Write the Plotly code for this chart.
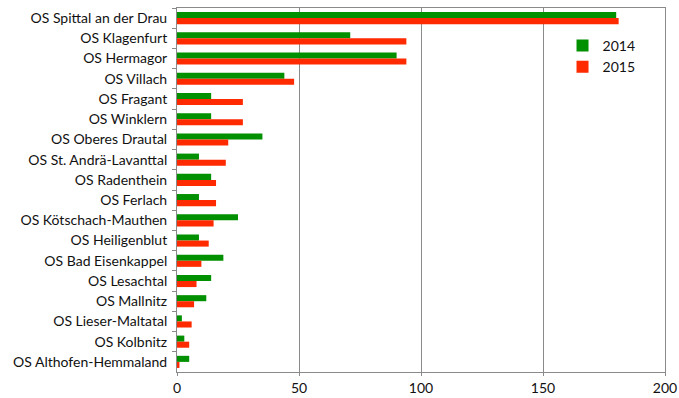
import plotly.graph_objects as go

categories = ["OS Spittal an der Drau", "OS Klagenfurt", "OS Hermagor", "OS Villach",
              "OS Fragant", "OS Winklern", "OS Oberes Drautal", "OS St. Andrä-Lavanttal",
              "OS Radenthein", "OS Ferlach", "OS Kötschach-Mauthen", "OS Heiligenblut",
              "OS Bad Eisenkappel", "OS Lesachtal", "OS Mallnitz", "OS Lieser-Maltatal",
              "OS Kolbnitz", "OS Althofen-Hemmaland"]
values_2014 = [180, 71, 90, 44, 14, 14, 35, 9, 14, 9, 25, 9, 19, 14, 12, 2, 3, 5]
values_2015 = [181, 94, 94, 48, 27, 27, 21, 20, 16, 16, 15, 13, 10, 8, 7, 6, 5, 1]

fig = go.Figure()
fig.add_trace(go.Bar(y=categories, x=values_2014, orientation="h", name="2014",
                     marker=dict(color="#009000", line=dict(width=0))))
fig.add_trace(go.Bar(y=categories, x=values_2015, orientation="h", name="2015",
                     marker=dict(color="#ff2a00", line=dict(width=0))))

font = "Lato, 'Open Sans', sans-serif"
fig.update_layout(
    width=679, height=398,
    margin=dict(l=177, r=14, t=8, b=26),
    paper_bgcolor="white", plot_bgcolor="white",
    barmode="group", bargap=0.4, bargroupgap=0,
    font=dict(family=font, size=14, color="#111"),
    legend=dict(x=0.79, y=0.94, xanchor="left", yanchor="top",
                bgcolor="rgba(0,0,0,0)", font=dict(size=14),
                itemwidth=30, tracegroupgap=3),
    showlegend=True,
)
fig.update_xaxes(range=[0, 200], tickvals=[0, 50, 100, 150, 200], automargin=False,
                 showgrid=True, gridcolor="#8a8a8a", gridwidth=1,
                 showline=True, linecolor="#8a8a8a", linewidth=1, mirror=True,
                 ticks="outside", ticklen=3, tickcolor="#8a8a8a",
                 zeroline=False, fixedrange=True)
fig.update_yaxes(autorange="reversed", showline=True, linecolor="#8a8a8a", linewidth=1,
                 automargin=False,
                 mirror=True, ticks="outside", ticklen=4, tickcolor="#8a8a8a",
                 tickson="boundaries", showgrid=False, ticklabelstandoff=6)

fig.write_html("out.html")
